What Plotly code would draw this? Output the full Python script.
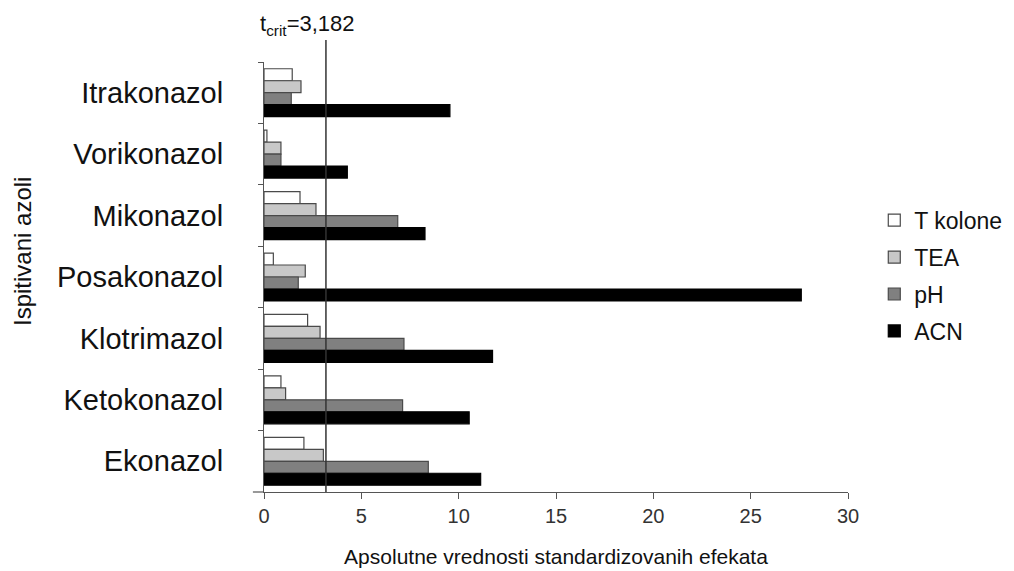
import plotly.graph_objects as go

categories = ["Itrakonazol", "Vorikonazol", "Mikonazol", "Posakonazol",
              "Klotrimazol", "Ketokonazol", "Ekonazol"]
t_kolone = [1.45, 0.15, 1.85, 0.48, 2.24, 0.87, 2.05]
tea = [1.9, 0.87, 2.67, 2.12, 2.88, 1.11, 3.05]
ph = [1.4, 0.87, 6.87, 1.76, 7.19, 7.12, 8.44]
acn = [9.55, 4.28, 8.27, 27.6, 11.74, 10.54, 11.13]
t_crit = 3.182
x_ticks = [0, 5, 10, 15, 20, 25, 30]

series = [
    ("T kolone", t_kolone, "#ffffff", "#4a4a4a"),
    ("TEA", tea, "#c8c8c8", "#4a4a4a"),
    ("pH", ph, "#808080", "#4a4a4a"),
    ("ACN", acn, "#000000", "#000000"),
]

FONT = "Liberation Sans, Arial, sans-serif"

fig = go.Figure()
for name, vals, fill, line in series:
    fig.add_trace(go.Bar(
        y=categories, x=vals, name=name, orientation="h",
        marker=dict(color=fill, line=dict(color=line, width=1.2)),
        legendgroup=name,
    ))

fig.add_shape(type="line", xref="x", yref="paper",
              x0=t_crit, x1=t_crit, y0=0, y1=1.051,
              line=dict(color="#333333", width=1.5))

# small extension of the x axis line to the left of zero, as in the reference
fig.add_shape(type="line", xref="paper", yref="paper",
              x0=-0.019, x1=0, y0=0, y1=0,
              line=dict(color="#555555", width=1.2))

fig.add_annotation(text="t<sub>crit</sub>=3,182", xref="paper", yref="paper",
                   x=-0.0103, y=1.086, xanchor="left", yanchor="middle",
                   showarrow=False, font=dict(family=FONT, size=22, color="#111111"))

fig.add_annotation(text="Ispitivani azoli", xref="paper", yref="paper",
                   x=(22 - 264) / 584, y=(492 - 252) / 430, xanchor="center",
                   yanchor="middle", textangle=-90, showarrow=False,
                   font=dict(family=FONT, size=24, color="#111111"))

# page body has an 8px default margin; compensate so the plot lands where the reference has it
fig.update_layout(
    width=1006, height=563,
    margin=dict(l=256, r=166, t=54, b=79, autoexpand=False),
    paper_bgcolor="white", plot_bgcolor="white",
    barmode="group", bargap=0.22, bargroupgap=0.0,
    font=dict(family=FONT, color="#111111"),
    showlegend=True,
    legend=dict(x=1.045, y=0.682, xanchor="left", yanchor="top",
                traceorder="grouped", tracegroupgap=4,
                font=dict(family=FONT, size=23, color="#111111"),
                bgcolor="rgba(0,0,0,0)"),
    xaxis=dict(range=[0, 30], tickvals=x_ticks, ticktext=[str(v) for v in x_ticks],
               showline=True, linecolor="#555555", linewidth=1.2,
               ticks="outside", ticklen=6, tickcolor="#555555",
               showgrid=False, zeroline=False, automargin=False,
               tickfont=dict(family=FONT, size=20, color="#333333"),
               title=dict(text="Apsolutne vrednosti standardizovanih efekata",
                          font=dict(family=FONT, size=21, color="#111111"),
                          standoff=23)),
    yaxis=dict(categoryorder="array", categoryarray=categories, autorange="reversed",
               showline=True, linecolor="#555555", linewidth=1.2,
               ticks="outside", ticklen=5, tickcolor="#555555", tickson="boundaries",
               showgrid=False, ticklabelstandoff=34, automargin=False,
               tickfont=dict(family=FONT, size=29, color="#111111")),
)

fig.write_html("out.html")
